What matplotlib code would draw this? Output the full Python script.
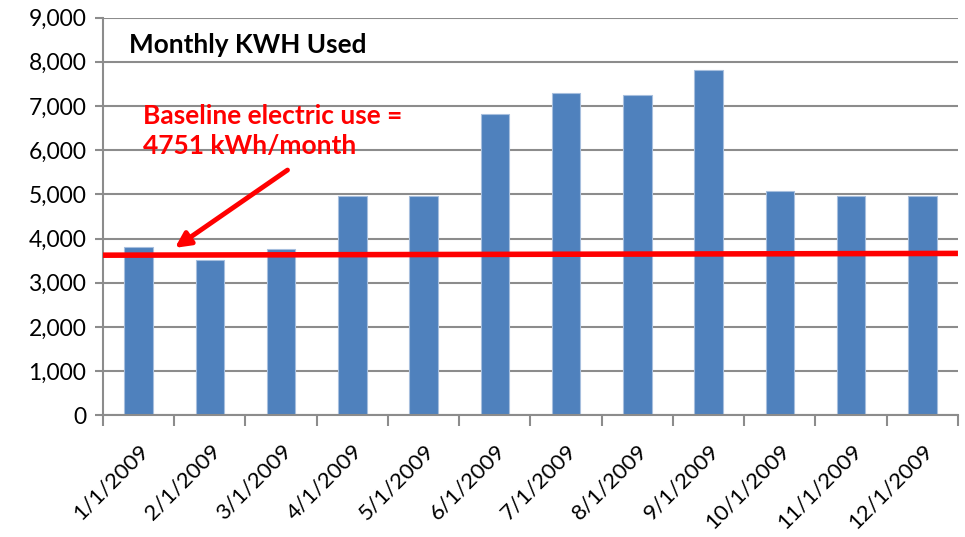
import matplotlib
matplotlib.use("Agg")
import matplotlib.pyplot as plt
from matplotlib.ticker import FuncFormatter, FixedLocator

months = ["1/1/2009", "2/1/2009", "3/1/2009", "4/1/2009", "5/1/2009", "6/1/2009",
          "7/1/2009", "8/1/2009", "9/1/2009", "10/1/2009", "11/1/2009", "12/1/2009"]
kwh = [3810, 3520, 3765, 4965, 4970, 6815, 7285, 7250, 7805, 5075, 4970, 4970]
baseline_start = 3625
baseline_end = 3665
title_text = "Monthly KWH Used"
note_text = "Baseline electric use =\n4751 kWh/month"

plt.rcParams['font.family'] = ['Lato', 'DejaVu Sans']

fig = plt.figure(figsize=(9.65, 5.37), dpi=100)
ax = fig.add_axes([0.1067, 0.2263, 0.8860, 0.7411])

x = list(range(len(months)))
ax.bar(x, kwh, width=0.4, color="#4F81BD", edgecolor="#A7BFDE", linewidth=0.8, zorder=2)

ax.set_xlim(-0.5, len(months) - 0.5)
ax.set_ylim(0, 9000)
ax.set_yticks(range(0, 9001, 1000))
ax.yaxis.set_major_formatter(FuncFormatter(lambda v, p: f"{int(v):,}"))
ax.grid(axis='y', color="#8C8C8C", linewidth=1.5, zorder=0)
ax.set_axisbelow(True)

ax.set_xticks(x)
ax.set_xticklabels(months, rotation=45, ha='right', rotation_mode='anchor', fontsize=16)
ax.tick_params(axis='x', length=0, pad=18)
ax.xaxis.set_minor_locator(FixedLocator([i - 0.5 for i in range(len(months) + 1)]))
ax.tick_params(axis='x', which='minor', length=8, width=1.5, color="#8C8C8C")
ax.tick_params(axis='y', length=6, width=1.5, color="#8C8C8C", labelsize=16.5, pad=6)

for s in ['top', 'right']:
    ax.spines[s].set_visible(False)
for s in ['left', 'bottom']:
    ax.spines[s].set_color("#8C8C8C")
    ax.spines[s].set_linewidth(1.5)

ax.plot([-0.5, len(months) - 0.5], [baseline_start, baseline_end], color="#FF0000", linewidth=4, zorder=3, solid_capstyle='butt')

ax.text(0.03, 0.93, title_text, transform=ax.transAxes, fontsize=18.8, fontweight='bold', va='center', ha='left')
ax.text(0.047, 0.715, note_text, transform=ax.transAxes, fontsize=19, fontweight='bold', color="#FF0000",
        va='center', ha='left', linespacing=1.3)

ax.annotate("", xy=(0.51, 3790), xytext=(2.09, 5550),
            arrowprops=dict(arrowstyle="-|>,head_length=0.9,head_width=0.45", color="#FF0000", lw=3.5, shrinkA=0, shrinkB=0),
            zorder=4)

fig.savefig("out.png", dpi=100)
